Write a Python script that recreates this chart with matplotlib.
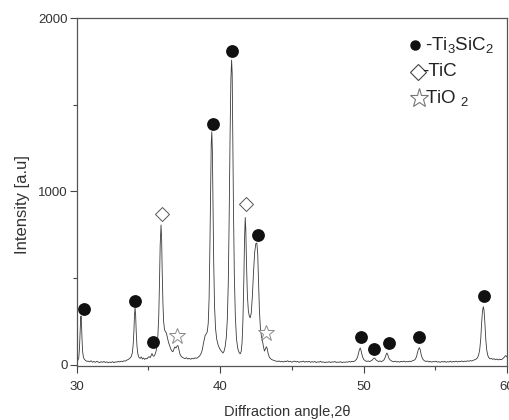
import numpy as np
import matplotlib.pyplot as plt
from matplotlib.ticker import MultipleLocator

plt.rcParams['font.family'] = ['Liberation Sans', 'DejaVu Sans']
plt.rcParams['mathtext.fontset'] = 'custom'
plt.rcParams['mathtext.rm'] = 'Liberation Sans'
plt.rcParams['mathtext.default'] = 'regular'

# XRD scan: (2theta, intensity) pairs
scan_points = [
    # Ti3SiC2 (30.3)
    (30.00, 24), (30.08, 27), (30.14, 40), (30.19, 90), (30.23, 180), (30.27, 255),
    (30.30, 282), (30.33, 245), (30.37, 150), (30.41, 80), (30.46, 48), (30.52, 34),
    (30.60, 27), (30.70, 21),
    (30.8, 22), (30.9, 18), (31.0, 24), (31.1, 16), (31.2, 20), (31.3, 15), (31.4, 21),
    (31.5, 17), (31.6, 13), (31.7, 19), (31.8, 15), (31.9, 20), (32.0, 14), (32.1, 18),
    (32.2, 12), (32.3, 17), (32.4, 14), (32.5, 19), (32.6, 13), (32.7, 18), (32.8, 16),
    (32.9, 21), (33.0, 17), (33.1, 22), (33.2, 19), (33.3, 24), (33.4, 22), (33.5, 28),
    (33.6, 32), (33.7, 38),
    # Ti3SiC2 (34.1)
    (33.80, 48), (33.88, 70), (33.94, 120), (33.99, 200), (34.03, 290), (34.07, 330),
    (34.11, 285), (34.15, 190), (34.20, 110), (34.26, 65), (34.33, 45), (34.42, 38),
    (34.50, 46), (34.58, 34), (34.66, 40), (34.74, 32), (34.82, 38), (34.90, 35),
    (34.98, 44), (35.05, 48), (35.12, 42), (35.18, 52), (35.25, 66), (35.31, 54),
    (35.38, 50), (35.45, 58), (35.52, 75),
    # TiC (35.9) and TiO2 (37.0)
    (35.60, 110), (35.66, 170), (35.72, 280), (35.77, 470), (35.82, 690), (35.88, 807),
    (35.92, 730), (35.96, 540), (36.01, 360), (36.06, 250), (36.12, 205), (36.18, 192),
    (36.25, 185), (36.32, 160), (36.40, 130), (36.48, 110), (36.56, 92), (36.64, 80),
    (36.71, 76), (36.78, 92), (36.85, 104), (36.92, 98), (36.99, 108), (37.06, 112),
    (37.13, 88), (37.20, 62), (37.28, 50), (37.36, 44), (37.45, 40), (37.55, 36),
    (37.65, 42), (37.75, 34), (37.85, 38), (37.95, 33), (38.05, 39), (38.15, 35),
    (38.25, 41), (38.35, 38), (38.45, 44), (38.55, 50), (38.65, 62), (38.75, 85),
    # Ti3SiC2 (39.4, 40.8), TiC (41.75), Ti3SiC2 (42.56), TiO2 (43.2)
    (38.85, 130), (38.95, 168), (39.03, 180), (39.10, 190), (39.17, 240), (39.23, 380),
    (39.29, 700), (39.34, 1050), (39.38, 1280), (39.42, 1344), (39.46, 1230),
    (39.50, 950), (39.55, 600), (39.61, 340), (39.68, 210), (39.76, 150), (39.86, 115),
    (39.96, 95), (40.06, 82), (40.14, 74), (40.20, 69), (40.27, 78), (40.35, 105),
    (40.43, 160), (40.50, 260), (40.57, 480), (40.63, 850), (40.69, 1300),
    (40.75, 1650), (40.80, 1758), (40.84, 1680), (40.88, 1350), (40.93, 900),
    (40.99, 520), (41.06, 280), (41.14, 150), (41.23, 95), (41.32, 72), (41.40, 64),
    (41.47, 78), (41.53, 130), (41.59, 260), (41.65, 480), (41.70, 720), (41.75, 850),
    (41.79, 780), (41.84, 580), (41.90, 400), (41.97, 310), (42.04, 280), (42.10, 272),
    (42.17, 300), (42.25, 400), (42.33, 540), (42.41, 650), (42.49, 700), (42.56, 703),
    (42.62, 640), (42.68, 470), (42.74, 310), (42.81, 210), (42.88, 165), (42.95, 140),
    (43.02, 105), (43.09, 80), (43.16, 92), (43.22, 105), (43.28, 95), (43.35, 65),
    (43.43, 45), (43.52, 36), (43.62, 30), (43.72, 27), (43.82, 24), (43.92, 22),
    (44.0, 20), (44.1, 23), (44.2, 18), (44.3, 21), (44.4, 17), (44.5, 22), (44.6, 19),
    (44.7, 24), (44.8, 18), (44.9, 21), (45.0, 16), (45.1, 20), (45.2, 22), (45.3, 17),
    (45.4, 21), (45.5, 15), (45.6, 19), (45.7, 18), (45.8, 22), (45.9, 16), (46.0, 20),
    (46.1, 17), (46.2, 21), (46.3, 15), (46.4, 19), (46.5, 16), (46.6, 20), (46.7, 14),
    (46.8, 18), (46.9, 16), (47.0, 21), (47.1, 15), (47.2, 18), (47.3, 13), (47.4, 17),
    (47.5, 15), (47.6, 19), (47.7, 14), (47.8, 18), (47.9, 16), (48.0, 20), (48.1, 14),
    (48.2, 17), (48.3, 15), (48.4, 19), (48.5, 13), (48.6, 17), (48.7, 15), (48.8, 18),
    (48.9, 16), (49.0, 20), (49.1, 17), (49.2, 21), (49.3, 19), (49.4, 24),
    # Ti3SiC2 (49.8, 50.7, 51.6, 53.9)
    (49.50, 32), (49.58, 45), (49.65, 68), (49.71, 88), (49.77, 98), (49.82, 85),
    (49.88, 62), (49.95, 42), (50.03, 30), (50.12, 24), (50.22, 20), (50.32, 23),
    (50.42, 19), (50.52, 24), (50.60, 28), (50.67, 34), (50.73, 40), (50.79, 38),
    (50.86, 30), (50.95, 24), (51.05, 20), (51.15, 23), (51.25, 19), (51.35, 24),
    (51.43, 30), (51.50, 42), (51.57, 60), (51.63, 69), (51.69, 58), (51.76, 40),
    (51.84, 30), (51.93, 24), (52.0, 21), (52.1, 18), (52.2, 22), (52.3, 17), (52.4, 20),
    (52.5, 16), (52.6, 21), (52.7, 18), (52.8, 22), (52.9, 17), (53.0, 20), (53.1, 18),
    (53.2, 22), (53.3, 19), (53.4, 24), (53.5, 26), (53.6, 32), (53.68, 45), (53.75, 68),
    (53.82, 90), (53.89, 100), (53.95, 88), (54.01, 62), (54.08, 42), (54.16, 30),
    (54.25, 24), (54.35, 20), (54.45, 23), (54.55, 17), (54.65, 21), (54.75, 16),
    (54.85, 20), (54.95, 18), (55.05, 22), (55.15, 16), (55.25, 19), (55.35, 15),
    (55.45, 20), (55.55, 17), (55.65, 21), (55.75, 15), (55.85, 19), (55.95, 17),
    (56.05, 22), (56.15, 16), (56.25, 20), (56.35, 18), (56.45, 22), (56.55, 17),
    (56.65, 21), (56.75, 19), (56.85, 23), (56.95, 18), (57.05, 22), (57.15, 20),
    (57.25, 24), (57.35, 21), (57.45, 25), (57.55, 23), (57.65, 27), (57.75, 30),
    # Ti3SiC2 (58.35)
    (57.85, 34), (57.95, 42), (58.03, 60), (58.10, 90), (58.17, 150), (58.23, 240),
    (58.29, 310), (58.35, 336), (58.40, 315), (58.46, 240), (58.52, 150), (58.58, 90),
    (58.65, 58), (58.73, 42), (58.82, 35), (58.91, 38), (59.0, 32), (59.1, 36),
    (59.2, 30), (59.3, 34), (59.4, 29), (59.5, 33), (59.6, 30), (59.7, 36), (59.78, 42),
    (59.86, 50), (59.92, 54), (60.0, 46),
]
two_theta = np.array([p[0] for p in scan_points])
counts = np.array([p[1] for p in scan_points])

# phase markers placed above the peaks
ti3sic2_x = [30.49, 34.07, 35.30, 39.51, 40.84, 42.65, 49.80, 50.70, 51.74, 53.90, 58.37]
ti3sic2_y = [323, 370, 132, 1389, 1810, 749, 163, 92, 126, 159, 398]
tic_x = [35.95, 41.80]
tic_y = [870, 928]
tio2_x = [36.98, 43.19]
tio2_y = [167, 184]

legend_labels = [r'-Ti$_3$SiC$_2$', '-TiC', r'TiO $_2$']

fig = plt.figure(figsize=(5.1, 4.2), dpi=100)
ax = fig.add_axes([0.1504, 0.1286, 0.8437, 0.8285])

ax.plot(two_theta, counts, color='#3a3a3a', lw=0.6)
ax.plot(ti3sic2_x, ti3sic2_y, 'o', color='#111111', ms=8.2, clip_on=False)
ax.plot(tic_x, tic_y, 'D', mfc='white', mec='#555555', mew=0.7, ms=7, clip_on=False)
ax.plot(tio2_x, tio2_y, '*', mfc='white', mec='#8a8a8a', mew=0.7, ms=12, clip_on=False)

ax.set_xlim(30, 60)
ax.set_ylim(-6, 2000)
ax.xaxis.set_major_locator(MultipleLocator(10))
ax.xaxis.set_minor_locator(MultipleLocator(5))
ax.yaxis.set_major_locator(MultipleLocator(1000))
ax.yaxis.set_minor_locator(MultipleLocator(500))
ax.tick_params(which='both', direction='out', colors='#444444', labelcolor='#333333',
               top=False, right=False, width=0.8)
ax.tick_params(which='major', length=5, labelsize=9.5)
ax.tick_params(which='minor', length=3)
ax.tick_params(axis='x', which='major', pad=6)
ax.tick_params(axis='y', which='major', pad=1.5)
for s in ax.spines.values():
    s.set_color('#555555')
    s.set_linewidth(0.9)

ax.set_xlabel('Diffraction angle,2θ', fontsize=10.5, color='#333333')
ax.xaxis.set_label_coords(0.49, -0.112)
ax.set_ylabel('Intensity [a.u]', fontsize=12, color='#333333')
ax.yaxis.set_label_coords(-0.108, 0.463)

# hand-built key in the upper right corner
key_y = [0.922, 0.845, 0.770]
ax.plot(0.786, key_y[0], 'o', color='#111111', ms=6.5, transform=ax.transAxes)
ax.plot(0.793, key_y[1], 'D', mfc='white', mec='#444444', mew=0.8, ms=8,
        transform=ax.transAxes)
ax.plot(0.795, key_y[2], '*', mfc='white', mec='#777777', mew=0.8, ms=14,
        transform=ax.transAxes)
ax.text(0.810, key_y[0], legend_labels[0], fontsize=13.5, color='#222222',
        va='center', transform=ax.transAxes)
ax.text(0.803, key_y[1], legend_labels[1], fontsize=13.5, color='#222222',
        va='center', transform=ax.transAxes)
ax.text(0.810, key_y[2], legend_labels[2], fontsize=13.5, color='#222222',
        va='center', transform=ax.transAxes)

fig.savefig('out.png', dpi=100)
